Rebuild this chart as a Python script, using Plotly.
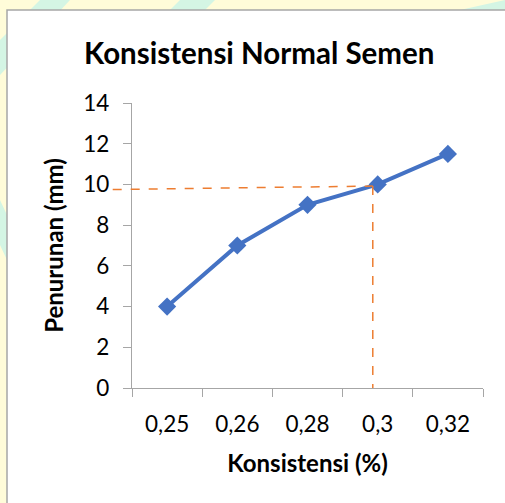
import plotly.graph_objects as go

# Data
konsistensi = ["0,25", "0,26", "0,28", "0,3", "0,32"]
penurunan = [4, 7, 9, 10, 11.5]
y_ticks = [0, 2, 4, 6, 8, 10, 12, 14]

# Guide lines reading off the 10 mm penetration (category position, mm)
guide_x_pos = 2.93
guide_y_start = 9.75
guide_y_end = 9.92
guide_y_left_extent = -0.775  # category position where the horizontal guide starts

W, H = 505, 503
M_L, M_R, M_T, M_B = 132, 22, 103, 115
PW, PH = W - M_L - M_R, H - M_T - M_B
Y_MIN, Y_MAX = 0, 14
X_MIN, X_MAX = -0.5, len(konsistensi) - 0.5


def px_x(px):
    return (px - M_L) / PW


def px_y(py):
    return (H - M_B - py) / PH


def cat_to_paper(pos):
    return (pos - X_MIN) / (X_MAX - X_MIN)


def val_to_paper(v):
    return (v - Y_MIN) / (Y_MAX - Y_MIN)


fig = go.Figure()
fig.add_trace(go.Scatter(
    x=konsistensi, y=penurunan, mode="lines+markers",
    line=dict(color="#4472C4", width=4),
    marker=dict(symbol="diamond", size=14, color="#4472C4"),
    showlegend=False, cliponaxis=False,
))

shapes = []
# light watermark backdrop around the chart frame
mint = "#D4F5E4"
shapes.append(dict(type="path", xref="paper", yref="paper", layer="below",
                   path=f"M {px_x(0)},{px_y(40)} L {px_x(40)},{px_y(0)} L {px_x(70)},{px_y(0)} L {px_x(0)},{px_y(75)} Z",
                   fillcolor=mint, line=dict(width=0)))
shapes.append(dict(type="path", xref="paper", yref="paper", layer="below",
                   path=f"M {px_x(0)},{px_y(200)} L {px_x(7)},{px_y(215)} L {px_x(7)},{px_y(260)} L {px_x(0)},{px_y(245)} Z",
                   fillcolor=mint, line=dict(width=0)))
shapes.append(dict(type="path", xref="paper", yref="paper", layer="below",
                   path=f"M {px_x(170)},{px_y(10)} L {px_x(180)},{px_y(0)} L {px_x(215)},{px_y(0)} L {px_x(205)},{px_y(10)} Z",
                   fillcolor=mint, line=dict(width=0)))
shapes.append(dict(type="path", xref="paper", yref="paper", layer="below",
                   path=f"M {px_x(460)},{px_y(10)} L {px_x(505)},{px_y(0)} L {px_x(505)},{px_y(10)} Z",
                   fillcolor=mint, line=dict(width=0)))
# white chart frame
shapes.append(dict(type="rect", xref="paper", yref="paper", layer="below",
                   x0=px_x(7), y0=px_y(10), x1=px_x(520), y1=px_y(520),
                   fillcolor="white", line=dict(color="#A6A6A6", width=1.5)))
# orange guide lines
orange = dict(color="#ED7D31", width=1.5, dash="dash")
shapes.append(dict(type="line", xref="paper", yref="paper",
                   x0=cat_to_paper(guide_y_left_extent), y0=val_to_paper(guide_y_start),
                   x1=cat_to_paper(guide_x_pos), y1=val_to_paper(guide_y_end), line=orange))
shapes.append(dict(type="line", xref="paper", yref="paper",
                   x0=cat_to_paper(guide_x_pos), y0=val_to_paper(guide_y_end),
                   x1=cat_to_paper(guide_x_pos), y1=val_to_paper(Y_MIN), line=orange))

fig.update_layout(
    width=W, height=H,
    margin=dict(l=M_L, r=M_R, t=M_T, b=M_B),
    paper_bgcolor="#FFFCD9", plot_bgcolor="white",
    font=dict(family="Lato", color="black"),
    shapes=shapes,
    annotations=[dict(
        text="<b>Konsistensi Normal Semen</b>", xref="paper", yref="paper",
        x=px_x(259), y=px_y(53), xanchor="center", yanchor="middle",
        showarrow=False, font=dict(size=29.5, family="Lato", color="black"),
    )],
    xaxis=dict(
        type="category", range=[X_MIN, X_MAX], tickson="boundaries",
        ticks="outside", ticklen=8, tickcolor="#A6A6A6", tickwidth=1.3,
        showline=True, linecolor="#A6A6A6", linewidth=1.3,
        showgrid=False, zeroline=False,
        tickfont=dict(size=22.5), ticklabelstandoff=16,
        title=dict(text="<b>Konsistensi (%)</b>", font=dict(size=24), standoff=19),
    ),
    yaxis=dict(
        range=[Y_MIN, Y_MAX], tickvals=y_ticks,
        ticks="outside", ticklen=8, tickcolor="#A6A6A6", tickwidth=1.3,
        showline=True, linecolor="#A6A6A6", linewidth=1.3,
        showgrid=False, zeroline=False,
        tickfont=dict(size=22.5), ticklabelstandoff=9,
        title=dict(text="<b>Penurunan (mm)</b>", font=dict(size=24), standoff=12),
    ),
)

fig.write_html("out.html")
